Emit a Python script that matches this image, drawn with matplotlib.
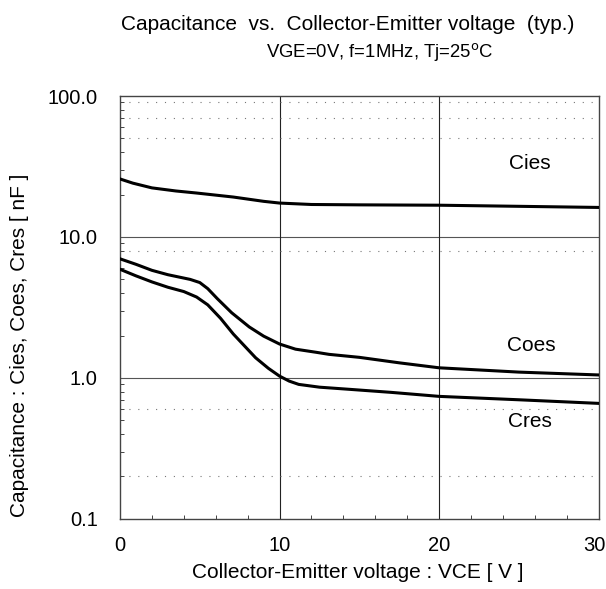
import numpy as np
import matplotlib
matplotlib.use('Agg')
import matplotlib.pyplot as plt
import matplotlib.transforms as mtransforms
from matplotlib.ticker import FixedLocator, NullFormatter

plt.rcParams['font.family'] = ['Liberation Sans', 'DejaVu Sans']

# Cies
vce_cies = [0, 0.8, 2, 3.5, 4.8, 7.1, 9, 10, 12, 15, 20, 25, 30]
cies = [25.8, 24.1, 22.3, 21.2, 20.5, 19.2, 17.9, 17.4, 17.0, 16.9, 16.8, 16.5, 16.2]

# Coes
vce_coes = [0, 1, 2, 3, 4.4, 5, 5.5, 6.1, 7.0, 8.1, 9.0, 10, 11, 12.3, 13.1, 15, 17.5, 20, 25, 30]
coes = [7.0, 6.4, 5.8, 5.4, 5.0, 4.75, 4.3, 3.65, 2.9, 2.3, 1.98, 1.74, 1.6, 1.52, 1.47, 1.40, 1.28, 1.18, 1.10, 1.05]

# Cres
vce_cres = [0, 1, 2, 3, 4, 4.8, 5.5, 6.3, 7.1, 8.5, 9.3, 10, 10.6, 11.2, 12.5, 14.4, 17, 20, 25, 30]
cres = [5.9, 5.3, 4.8, 4.4, 4.1, 3.75, 3.3, 2.65, 2.05, 1.39, 1.17, 1.03, 0.95, 0.90, 0.86, 0.83, 0.79, 0.74, 0.70, 0.66]

dotted_levels = [90, 70, 50, 8, 0.6, 0.2]
y_ticks = [0.1, 1, 10, 100]
y_ticklabels = ['0.1', '1.0', '10.0', '100.0']
x_ticks = [0, 10, 20, 30]

fig = plt.figure(figsize=(6.06, 5.89), dpi=100)
ax = fig.add_axes([0.198, 0.119, 0.79, 0.718])

ax.set_yscale('log')
ax.set_xlim(0, 30)
ax.set_ylim(0.1, 100)

# grid
for v in [1, 10]:
    ax.axhline(v, color='#555555', lw=0.8, zorder=1)
for v in [10, 20]:
    ax.axvline(v, color='#222222', lw=0.8, zorder=1)
for v in dotted_levels:
    ax.axhline(v, color='#777777', lw=0.8, ls=(0, (1, 7)), zorder=1)

for x, y in [(vce_cies, cies), (vce_coes, coes), (vce_cres, cres)]:
    ax.plot(x, y, color='black', lw=2.2, zorder=3)

ax.set_xticks(x_ticks)
ax.xaxis.set_minor_locator(FixedLocator(np.arange(2, 30, 2)))
ax.yaxis.set_major_locator(FixedLocator(y_ticks))
ax.set_yticklabels(y_ticklabels)
ax.yaxis.set_minor_locator(FixedLocator([m * d for d in [0.1, 1, 10] for m in range(2, 10)]))
ax.yaxis.set_minor_formatter(NullFormatter())
ax.tick_params(which='both', direction='in', color='#444444', width=0.7)
ax.tick_params(which='major', length=0, labelsize=14.5)
ax.tick_params(axis='y', which='major', pad=16)
ax.tick_params(axis='x', which='major', pad=12)
ax.tick_params(which='minor', length=3)
for s in ax.spines.values():
    s.set_color('#444444')
    s.set_linewidth(1.0)

# nudge the last x label so it stays inside the figure
last = ax.get_xticklabels()[-1]
last.set_transform(last.get_transform() + mtransforms.ScaledTranslation(-3 / 72, 0, fig.dpi_scale_trans))

ax.set_xlabel('Collector-Emitter voltage : VCE [ V ]', fontsize=15)
ax.set_ylabel('Capacitance : Cies, Coes, Cres [ nF ]', fontsize=15)
ax.xaxis.set_label_coords(0.496, -0.105)
ax.yaxis.set_label_coords(-0.19, 0.41)

ax.text(25.7, 33, 'Cies', fontsize=15, ha='center', va='center')
ax.text(25.8, 1.7, 'Coes', fontsize=15, ha='center', va='center')
ax.text(25.7, 0.49, 'Cres', fontsize=15, ha='center', va='center')

fig.text(348 / 606, 1 - 30 / 589, 'Capacitance  vs.  Collector-Emitter voltage  (typ.)',
         fontsize=15, ha='center', va='baseline')
fig.text(380 / 606, 1 - 57 / 589, 'VGE=0V, f=1MHz, Tj=25$^{\\mathrm{o}}$C',
         fontsize=13.3, ha='center', va='baseline')

fig.savefig('out.png', dpi=100)
